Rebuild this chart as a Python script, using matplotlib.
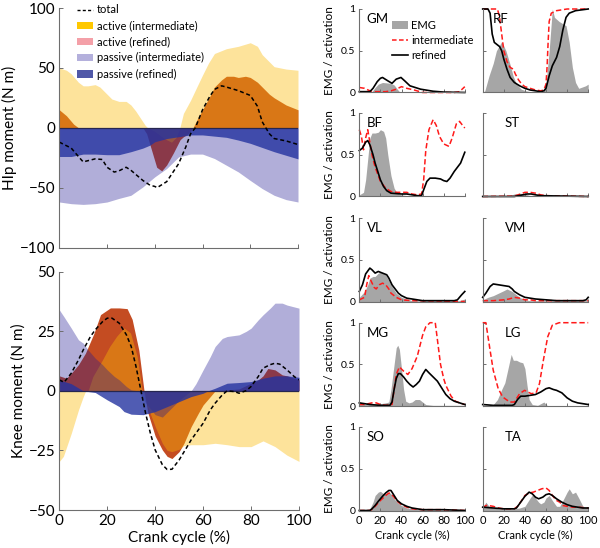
import matplotlib
matplotlib.use('Agg')
import matplotlib.pyplot as plt
from matplotlib.patches import Patch
from matplotlib.lines import Line2D

plt.rcParams['font.family'] = ['Lato', 'DejaVu Sans']

# ---------------- hip moment (N m) ----------------
hip_act_int_x = [0, 3, 5, 8, 10, 12, 15, 17, 20, 22, 25, 28, 30, 32, 34, 36, 37, 40, 44, 47, 49, 50.5,
                 52, 55, 57.6, 60, 62.5, 65, 70, 75, 80, 83, 85, 90, 95, 100]
hip_act_int = [50, 48, 45, 38, 35, 35, 36, 34, 28, 24, 22, 22, 19, 14, 8, 2, 0, -3, -9, -12, -8, 0,
               12, 23, 34, 44, 54, 62, 66, 68, 71, 68, 61, 51, 49, 48]
hip_act_ref_x = [0, 3, 6, 8, 35, 36.6, 38.7, 40.8, 42.9, 45, 47.8, 50.6, 52, 54, 56, 58, 60, 63, 65, 68,
                 70, 73, 75, 78, 80, 83, 85, 88, 90, 95, 100]
hip_act_ref = [15, 10, 3, 0, 0, -5, -19, -33, -36, -31, -21, -10, -7.5, -5, 0, 8, 15, 26, 34, 40,
               43, 43, 42, 43, 42, 38, 34, 28, 25, 19, 15]
hip_pas_int_x = [0, 5, 10, 15, 20, 25, 30, 35, 40, 45, 50, 55, 60, 65, 70, 75, 80, 85, 90, 95, 100]
hip_pas_int = [-62, -63.4, -64, -63.4, -62, -59, -56.4, -49.4, -41, -34, -24.3, -22, -22, -25.7, -31.3,
               -36.9, -44, -50.8, -56.4, -60, -62]
hip_pas_ref_x = [0, 5, 10, 15, 20, 25, 30, 35, 38, 40, 45, 50, 55, 60, 65, 70, 75, 80, 85, 90, 95, 100]
hip_pas_ref = [-24, -24, -22, -22, -22.5, -22.5, -20, -17, -14.5, -11.7, -9, -7.5, -6, -6, -7, -8,
               -10.3, -13, -16.5, -20, -23, -26]
hip_total_x = [0, 5, 8, 10, 13, 15, 18, 20, 23, 25, 28, 30, 35, 38, 40, 41, 45, 50, 53, 55, 57, 60, 63,
               65, 68, 70, 75, 80, 83, 85, 88, 90, 95, 100]
hip_total = [-12, -17, -24, -28.5, -27, -26, -26.5, -33, -37, -36, -33, -35.5, -44, -48, -49, -50, -45,
             -30, -16, -5, 0, 15, 26, 32, 35, 34, 31, 27, 18, 5, -5, -9, -11, -14]

# ---------------- knee moment (N m) ----------------
knee_act_int_x = [0, 1.7, 5, 8, 10, 11, 12, 14, 18, 21, 24, 27, 29.7, 32.5, 34.6, 37, 40, 43, 45, 47,
                  50, 52, 55, 60, 65, 70, 75, 80, 85, 90, 95, 100]
knee_act_int = [-29.6, -27.5, -17.8, -8, -2.4, 0, 0, 6, 13, 18.6, 23, 26.4, 24.3, 14.4, 0, -7, -15, -22,
                -25, -25.5, -24.5, -23, -22.6, -22.6, -22, -22.6, -23.4, -23.4, -21, -23.4, -27, -29.6]
knee_act_ref_x = [0, 3, 5, 8, 10.9, 14.4, 17.2, 21.3, 25, 28.3, 30.4, 33.2, 35.3, 37, 40, 43, 45, 47,
                  50, 52, 55, 58, 60, 63, 65, 70, 75, 80, 83, 85, 87, 90, 93, 95, 100]
knee_act_ref = [6.3, 5.3, 7.4, 11, 15.8, 24, 32, 34.8, 34.8, 34.5, 30, 17, 0.4, -9.4, -19, -24.8, -27.5,
                -28.4, -25.5, -22, -15, -9.4, -5.9, -2.4, 0, 0.4, 0.8, 3.2, 4.6, 6.3, 9.4, 8.8, 6.7,
                6.3, 4.6]
knee_pas_int_x = [0, 2, 5, 8, 10, 12, 15, 18, 20, 23, 25, 28, 30, 33, 36, 40, 43, 46, 50, 55, 57, 60,
                  63, 65, 68, 70, 75, 78, 80, 83, 85, 88, 90, 93, 95, 100]
knee_pas_int = [34, 31, 26.3, 21.4, 20, 17.2, 13.7, 11, 8.8, 6, 4.6, 1.8, 0.4, 0, -5, -10, -11, -8, -4,
                0, 3, 8.8, 14.4, 18.6, 22, 22.8, 23.5, 25, 26.3, 29.8, 31.9, 34.7, 36.8, 36.8, 36, 34.7]
knee_pas_ref_x = [0, 5, 10, 15, 20, 25, 27, 30, 35, 40, 45, 50, 55, 60, 62, 65, 70, 75, 80, 85, 90,
                  95, 100]
knee_pas_ref = [4.6, 3, 0, -0.7, -3.8, -6.6, -8.7, -9.8, -10, -8.7, -6.6, -4.5, -2.4, -1, 0, 1.1, 3.2,
                3.5, 3.9, 5.3, 6.3, 6.3, 5.7]
knee_total_x = [0, 2, 5, 8, 10, 13, 15, 18, 20, 22, 25, 28, 30, 32, 34, 36, 38, 40, 43, 45, 47, 50,
                53, 55, 60, 63, 65, 68, 70, 73, 75, 78, 80, 83, 85, 88, 90, 92, 95, 98, 100]
knee_total = [4.6, 3.6, 7.4, 13, 17.2, 22.8, 25.6, 29, 30.5, 30.5, 28.4, 23.5, 18.6, 10.2, 0.4, -9.4,
              -17.8, -24.8, -31, -33, -32.9, -29, -24, -20.6, -13.6, -8, -5.2, -1.7, 0, -0.3, -1, 0.1,
              1.8, 6, 9.5, 11, 11.6, 11.2, 8.8, 6, 4.6]

# ---------------- EMG / activation per muscle: (x, y) ----------------
GM_emg = ([0, 12, 15, 18, 22, 30, 33, 36, 38, 100], [0.01, 0.01, 0.06, 0.1, 0.12, 0.11, 0.09, 0.04, 0.01, 0.0])
GM_int = ([0, 5, 10, 15, 25, 30, 35, 40, 45, 52, 60, 90, 95, 100],
          [0.06, 0.05, 0.02, 0.01, 0.01, 0.02, 0.04, 0.07, 0.05, 0.03, 0.0, 0.0, 0.01, 0.07])
GM_ref = ([0, 10, 13, 17, 20, 22, 27, 31, 35, 39.5, 43, 48, 58, 70, 80, 100],
          [0.01, 0.01, 0.05, 0.13, 0.17, 0.18, 0.14, 0.11, 0.16, 0.18, 0.14, 0.08, 0.04, 0.015, 0.005, 0.0])

RF_emg = ([0, 2, 6, 10, 13, 18, 22, 25.6, 28.8, 32, 36.6, 41, 50, 57, 60, 63, 66, 68, 72.5, 79, 82, 85,
           88, 91, 97.5, 100],
          [0.0, 0.02, 0.2, 0.35, 0.5, 0.61, 0.5, 0.35, 0.2, 0.1, 0.04, 0.02, 0.0, 0.0, 0.1, 0.5, 1.0, 0.9,
           0.85, 0.8, 0.6, 0.3, 0.12, 0.05, 0.08, 0.1])
RF_int = ([0, 14, 16, 18, 20, 23, 26, 29, 31, 34, 37, 40, 45, 50, 55, 58, 60, 61, 62, 63, 65, 70, 80, 100],
          [1.0, 1.0, 0.9, 0.7, 0.5, 0.37, 0.3, 0.28, 0.22, 0.15, 0.1, 0.07, 0.05, 0.03, 0.02, 0.03, 0.1, 0.3,
           0.6, 0.85, 0.95, 0.98, 1.0, 1.0])
RF_ref = ([0, 5, 7, 9, 11, 13, 16, 18, 20, 23, 26, 30, 35, 40, 45, 50, 55, 58, 60, 63, 66, 70, 73, 76,
           79, 82, 88, 100],
          [1.0, 1.0, 0.95, 0.7, 0.6, 0.58, 0.55, 0.5, 0.4, 0.28, 0.18, 0.12, 0.08, 0.05, 0.03, 0.02, 0.01,
           0.02, 0.05, 0.2, 0.32, 0.42, 0.55, 0.75, 0.9, 0.95, 0.98, 1.0])

BF_emg = ([0, 4, 6, 8, 10, 12, 15, 18, 20, 23, 25, 27, 30, 33, 36, 40, 45, 100],
          [0.02, 0.05, 0.2, 0.45, 0.7, 0.76, 0.76, 0.77, 0.8, 0.78, 0.7, 0.5, 0.25, 0.1, 0.04, 0.02, 0.01, 0.01])
BF_int = ([0, 2, 4, 6, 8, 10, 12, 15, 18, 20, 25, 30, 35, 40, 45, 50, 55, 59, 61, 63, 66, 70, 73, 76,
           80, 85, 88, 92, 95, 98, 100],
          [0.8, 0.72, 0.56, 0.7, 0.8, 0.65, 0.5, 0.35, 0.25, 0.18, 0.1, 0.06, 0.05, 0.05, 0.05, 0.03, 0.02,
           0.03, 0.2, 0.55, 0.8, 0.92, 0.85, 0.72, 0.63, 0.6, 0.7, 0.87, 0.9, 0.85, 0.82])
BF_ref = ([0, 3, 6, 8, 10, 13, 15, 18, 20, 23, 26, 30, 35, 40, 45, 50, 55, 59, 61, 64, 67, 72, 77, 80,
           83, 86, 90, 93, 96, 100],
          [0.55, 0.58, 0.65, 0.67, 0.62, 0.5, 0.4, 0.28, 0.2, 0.12, 0.07, 0.04, 0.035, 0.03, 0.03, 0.02,
           0.01, 0.01, 0.08, 0.18, 0.22, 0.22, 0.21, 0.19, 0.18, 0.22, 0.3, 0.35, 0.4, 0.53])

ST_emg = ([0, 25, 30, 35, 40, 45, 100], [0.005, 0.01, 0.03, 0.04, 0.03, 0.01, 0.005])
ST_int = ([0, 30, 36, 40, 45, 50, 55, 60, 100], [0.0, 0.005, 0.03, 0.05, 0.05, 0.04, 0.02, 0.01, 0.0])
ST_ref = ([0, 30, 38, 42, 46, 50, 55, 100], [0.0, 0.0, 0.02, 0.03, 0.03, 0.02, 0.01, 0.0])

VL_emg = ([0, 5, 8, 10, 13, 15, 18, 20, 25, 28, 30, 35, 40, 45, 50, 95, 100],
          [0.05, 0.12, 0.2, 0.28, 0.3, 0.3, 0.34, 0.35, 0.32, 0.25, 0.2, 0.1, 0.05, 0.03, 0.01, 0.01, 0.03])
VL_int = ([0, 5, 7, 9, 11, 14, 16, 19, 22, 25, 28, 30, 35, 40, 50, 100],
          [0.02, 0.05, 0.2, 0.31, 0.25, 0.17, 0.15, 0.2, 0.22, 0.2, 0.15, 0.1, 0.05, 0.02, 0.01, 0.0])
VL_ref = ([0, 3, 6, 10, 12, 15, 18, 20, 26, 28, 31, 37, 40, 45, 50, 55, 60, 90, 93, 97, 100],
          [0.12, 0.2, 0.33, 0.4, 0.38, 0.34, 0.36, 0.35, 0.32, 0.28, 0.2, 0.1, 0.07, 0.04, 0.03, 0.02, 0.01,
           0.01, 0.02, 0.08, 0.12])

VM_emg = ([0, 5, 10, 15, 20, 23, 28, 30, 35, 40, 45, 100],
          [0.02, 0.05, 0.07, 0.1, 0.13, 0.15, 0.12, 0.1, 0.05, 0.02, 0.01, 0.01])
VM_int = ([0, 10, 20, 25, 30, 35, 40, 45, 50, 100], [0.01, 0.01, 0.02, 0.03, 0.05, 0.04, 0.02, 0.02, 0.01, 0.01])
VM_ref = ([0, 3, 7, 10, 15, 20, 25, 28, 30, 35, 40, 45, 50, 60, 70, 95, 98, 100],
          [0.05, 0.1, 0.18, 0.21, 0.2, 0.19, 0.18, 0.15, 0.12, 0.08, 0.05, 0.04, 0.03, 0.02, 0.01, 0.01,
           0.02, 0.05])

MG_emg = ([0, 10, 20, 25, 28, 30, 33, 35, 36.5, 38, 40, 42, 44, 47, 50, 53, 57, 60, 63, 70, 100],
          [0.02, 0.02, 0.03, 0.04, 0.05, 0.2, 0.5, 0.7, 0.73, 0.68, 0.45, 0.2, 0.06, 0.04, 0.05, 0.08, 0.08,
           0.05, 0.02, 0.01, 0.01])
MG_int = ([0, 5, 12, 16, 20, 25, 31, 33, 35, 38, 42, 46, 50, 55, 60, 63, 67, 72, 74, 77, 80, 82, 87, 91,
           95, 100],
          [0.02, 0.02, 0.04, 0.04, 0.02, 0.01, 0.02, 0.2, 0.38, 0.47, 0.42, 0.38, 0.45, 0.6, 0.85, 0.95, 1.0,
           1.0, 0.8, 0.5, 0.33, 0.25, 0.12, 0.06, 0.04, 0.02])
MG_ref = ([0, 5, 10, 20, 29, 31, 33, 35, 37, 39, 42, 45, 48, 51, 54, 57, 60, 63, 66, 70, 74, 78, 82, 86,
           90, 95, 100],
          [0.04, 0.03, 0.02, 0.01, 0.01, 0.05, 0.2, 0.33, 0.39, 0.39, 0.35, 0.3, 0.26, 0.23, 0.26, 0.3, 0.38,
           0.44, 0.4, 0.35, 0.3, 0.22, 0.14, 0.09, 0.06, 0.04, 0.02])

LG_emg = ([0, 10, 14, 18, 21, 24, 27, 29, 32, 35, 38, 40, 42, 44, 47, 52, 55, 58, 61, 65, 100],
          [0.0, 0.02, 0.08, 0.2, 0.28, 0.45, 0.62, 0.55, 0.55, 0.53, 0.52, 0.45, 0.25, 0.08, 0.02, 0.01, 0.03,
           0.05, 0.01, 0.0, 0.0])
LG_int = ([0, 3, 7, 10, 14.7, 19, 25.6, 30, 35, 39.7, 46, 50.6, 53.8, 57.5, 61.6, 66, 72.5, 100],
          [1.0, 1.0, 0.67, 0.43, 0.21, 0.11, 0.05, 0.05, 0.15, 0.19, 0.15, 0.16, 0.27, 0.55, 0.83, 0.97, 1.0, 1.0])
LG_ref = ([0, 10, 20, 28, 30, 33, 36, 40, 45, 50, 55, 60, 63, 67, 70, 75, 80, 85, 90, 95, 100],
          [0.02, 0.01, 0.01, 0.01, 0.02, 0.08, 0.12, 0.12, 0.13, 0.14, 0.17, 0.21, 0.22, 0.2, 0.19, 0.16,
           0.1, 0.06, 0.04, 0.03, 0.02])

SO_emg = ([0, 10, 13, 15, 18, 20, 23, 25, 28, 30, 33, 36, 40, 45, 50, 60, 80, 100],
          [0.0, 0.02, 0.1, 0.18, 0.22, 0.23, 0.2, 0.2, 0.22, 0.2, 0.14, 0.1, 0.06, 0.03, 0.02, 0.01, 0.005, 0.0])
SO_int = ([0, 10, 13, 15, 20, 25, 28, 30, 33, 36, 40, 45, 50, 60, 80, 100],
          [0.0, 0.0, 0.02, 0.05, 0.12, 0.18, 0.21, 0.2, 0.16, 0.11, 0.07, 0.04, 0.02, 0.01, 0.01, 0.0])
SO_ref = ([0, 10, 12, 15, 18, 22, 25, 28, 30, 33, 36, 40, 45, 50, 55, 60, 80, 100],
          [0.0, 0.0, 0.02, 0.06, 0.11, 0.17, 0.21, 0.24, 0.24, 0.18, 0.12, 0.08, 0.05, 0.03, 0.02, 0.01, 0.01, 0.0])

TA_emg = ([0, 3, 6, 10, 15, 30, 35, 40, 45, 48, 50, 53, 55, 58, 60, 63, 66, 70, 73, 76, 80, 82, 85, 88,
           91, 95, 100],
          [0.03, 0.1, 0.05, 0.03, 0.02, 0.02, 0.03, 0.05, 0.15, 0.2, 0.15, 0.1, 0.08, 0.1, 0.15, 0.18, 0.12,
           0.05, 0.05, 0.12, 0.22, 0.26, 0.2, 0.22, 0.15, 0.05, 0.03])
TA_int = ([0, 3, 5, 10, 15, 20, 30, 33, 37, 40, 44, 48, 52, 56, 60, 63, 66, 70, 73, 76, 80, 85, 90, 100],
          [0.03, 0.06, 0.06, 0.05, 0.03, 0.02, 0.02, 0.05, 0.12, 0.18, 0.21, 0.22, 0.24, 0.26, 0.27, 0.24,
           0.18, 0.12, 0.1, 0.06, 0.05, 0.04, 0.04, 0.03])
TA_ref = ([0, 10, 20, 30, 32, 36, 40, 44, 47, 50, 53, 57, 60, 63, 66, 70, 75, 80, 85, 90, 95, 100],
          [0.04, 0.03, 0.02, 0.02, 0.03, 0.1, 0.17, 0.22, 0.2, 0.16, 0.14, 0.16, 0.19, 0.2, 0.18, 0.14, 0.1,
           0.07, 0.05, 0.04, 0.03, 0.03])

muscles = [('GM', GM_emg, GM_int, GM_ref), ('RF', RF_emg, RF_int, RF_ref),
           ('BF', BF_emg, BF_int, BF_ref), ('ST', ST_emg, ST_int, ST_ref),
           ('VL', VL_emg, VL_int, VL_ref), ('VM', VM_emg, VM_int, VM_ref),
           ('MG', MG_emg, MG_int, MG_ref), ('LG', LG_emg, LG_int, LG_ref),
           ('SO', SO_emg, SO_int, SO_ref), ('TA', TA_emg, TA_int, TA_ref)]

# colours of the stacked, see-through patches
c_act_ref = '#c44c22'
c_act_int = '#fab905'
c_pas_int = '#201892'
c_pas_ref = '#2433a0'
spine_c = '#6e6e6e'

W, H = 600, 548
fig = plt.figure(figsize=(6, 5.48), dpi=100)


def style(ax, fs):
    for s in ['top', 'right']:
        ax.spines[s].set_visible(False)
    for s in ['left', 'bottom']:
        ax.spines[s].set_color(spine_c)
        ax.spines[s].set_linewidth(0.8)
    ax.tick_params(direction='in', color=spine_c, labelsize=fs, length=3, width=0.7, pad=3)


def moment_panel(ax, layers, tx, ty):
    for x, y, c, a in layers:
        ax.fill_between(x, 0, y, color=c, alpha=a, lw=0)
    ax.axhline(0, color='#262650', lw=0.9)
    ax.plot(tx, ty, color='k', ls='--', dashes=(2.6, 1.8), lw=1.1)
    ax.set_xlim(0, 100)
    ax.set_xticks(range(0, 101, 20))
    style(ax, 11)


ax_hip = fig.add_axes([59.3 / W, 1 - 247.5 / H, 238.7 / W, 239.5 / H])
moment_panel(ax_hip, [(hip_act_ref_x, hip_act_ref, c_act_ref, 1.0),
                      (hip_act_int_x, hip_act_int, c_act_int, 0.4),
                      (hip_pas_int_x, hip_pas_int, c_pas_int, 0.35),
                      (hip_pas_ref_x, hip_pas_ref, c_pas_ref, 0.8)], hip_total_x, hip_total)
ax_hip.set_ylim(-100, 100)
ax_hip.set_yticks([-100, -50, 0, 50, 100])
ax_hip.set_xticklabels([])
ax_hip.set_ylabel('HIp moment (N m)', fontsize=11, labelpad=2)

handles = [Line2D([], [], color='k', ls='--', dashes=(2.2, 1.6), lw=1.0),
           Patch(color='#ffc800', lw=0), Patch(color='#f4a0a8', lw=0),
           Patch(color='#b4b0dc', lw=0), Patch(color='#5058a8', lw=0)]
ax_hip.legend(handles, ['total', 'active (intermediate)', 'active (refined)',
                        'passive (intermediate)', 'passive (refined)'],
              loc='upper left', bbox_to_anchor=(0.075, 1.015), frameon=False, fontsize=8,
              handlelength=1.4, handleheight=0.7, handletextpad=0.4, labelspacing=0.45,
              borderpad=0, borderaxespad=0)

ax_knee = fig.add_axes([59.3 / W, 1 - 510 / H, 239.7 / W, 238.3 / H])
moment_panel(ax_knee, [(knee_act_ref_x, knee_act_ref, c_act_ref, 1.0),
                       (knee_act_int_x, knee_act_int, c_act_int, 0.4),
                       (knee_pas_int_x, knee_pas_int, c_pas_int, 0.35),
                       (knee_pas_ref_x, knee_pas_ref, c_pas_ref, 0.8)], knee_total_x, knee_total)
ax_knee.set_ylim(-50, 50)
ax_knee.set_yticks([-50, -25, 0, 25, 50])
ax_knee.set_ylabel('Knee moment (N m)', fontsize=11, labelpad=2)
ax_knee.set_xlabel('Crank cycle (%)', fontsize=11, labelpad=1)

# ---------------- EMG panels ----------------
lefts = [359.3, 482.7]
tops = [9, 113, 218, 322.7, 427]
pw, ph = 105.5, 83.5
lab_x = [0.07, 0.21]

for i, (name, emg, act_int, act_ref) in enumerate(muscles):
    row, col = divmod(i, 2)
    ax = fig.add_axes([lefts[col] / W, 1 - (tops[row] + ph) / H, pw / W, ph / H])
    ax.fill_between(emg[0], 0, emg[1], color='#a6a6a6', lw=0)
    ax.plot(act_int[0], act_int[1], color='#ff1a1a', ls='--', dashes=(3.5, 1.8), lw=1.1, clip_on=False)
    ax.plot(act_ref[0], act_ref[1], color='k', lw=1.2, clip_on=False)
    ax.set_xlim(0, 100)
    ax.set_ylim(0, 1)
    ax.set_xticks(range(0, 101, 20))
    ax.set_yticks([0, 0.5, 1])
    style(ax, 8)
    ax.tick_params(axis='y', labelsize=7.5, length=2)
    ax.tick_params(axis='x', length=2)
    ax.set_yticklabels(['0', '0.5', '1'])
    lx = 0.1 if name == 'RF' else lab_x[col]
    ax.text(lx, 0.88, name, transform=ax.transAxes, fontsize=9.5, va='center', ha='left')
    if col == 0:
        ax.set_ylabel('EMG / activation', fontsize=8.5, labelpad=4)
    else:
        ax.set_yticklabels([])
    if row == 4:
        ax.set_xlabel('Crank cycle (%)', fontsize=8, labelpad=3)
    else:
        ax.set_xticklabels([])
    if name == 'GM':
        h = [Patch(color='#a6a6a6', lw=0),
             Line2D([], [], color='#ff1a1a', ls='--', dashes=(3, 1.6), lw=1.1),
             Line2D([], [], color='k', lw=1.2)]
        ax.legend(h, ['EMG', 'intermediate', 'refined'], loc='upper left',
                  bbox_to_anchor=(0.31, 0.87), frameon=False, fontsize=8,
                  handlelength=1.4, handleheight=0.7, handletextpad=0.3, labelspacing=0.35,
                  borderpad=0, borderaxespad=0)

fig.savefig('out.png', dpi=100)
